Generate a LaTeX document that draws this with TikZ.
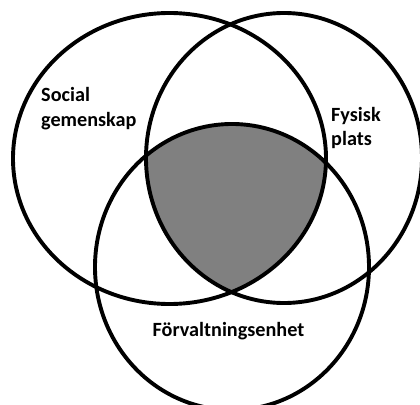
\documentclass[tikz,border=0pt]{standalone}
\usepackage{fontspec}
\setmainfont{Carlito}
\definecolor{coreshade}{RGB}{128,128,128}
\begin{document}
\begin{tikzpicture}[x=1pt,y=-1pt,
  ring/.style={draw=black,line width=3.9pt},
  label/.style={font=\fontsize{20.2}{24.5}\selectfont\bfseries,inner sep=0pt,anchor=base west,align=left}]
  \useasboundingbox (0,0) rectangle (420,404);
  \clip (0,0) rectangle (420,404);
  % centres of the three sets
  \coordinate (cl) at (169.5,158.5);
  \coordinate (cr) at (284,158);
  \coordinate (cb) at (232,267);
  % common part of all three sets
  \begin{scope}
    \clip (cl) ellipse [x radius=156.5, y radius=145.5];
    \clip (cr) ellipse [x radius=138, y radius=145];
    \fill[coreshade] (cb) ellipse [x radius=137, y radius=143];
  \end{scope}
  \draw[ring] (cl) ellipse [x radius=156.5, y radius=145.5];
  \draw[ring] (cr) ellipse [x radius=138, y radius=145];
  \draw[ring] (cb) ellipse [x radius=137, y radius=143];
  % multi-line labels are anchored at the baseline of their last line
  \node[label] (social) at (41,126) {Social\\gemenskap};
  \node[label] (fysisk) at (331,145.5) {Fysisk\\plats};
  \node[label] (forv) at (152.5,336) {Förvaltningsenhet};
\end{tikzpicture}
\end{document}
